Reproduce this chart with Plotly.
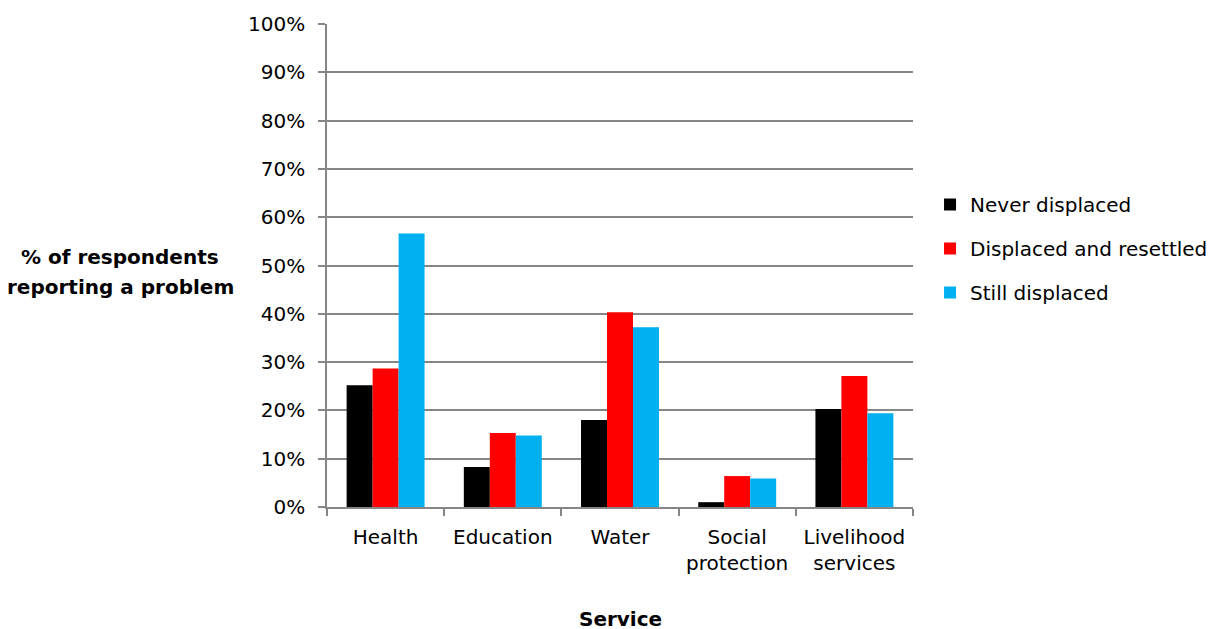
import plotly.graph_objects as go

categories = ["Health", "Education", "Water", "Social<br>protection", "Livelihood<br>services"]
never_displaced = [25.2, 8.3, 18.0, 1.0, 20.3]
displaced_resettled = [28.7, 15.3, 40.3, 6.4, 27.1]
still_displaced = [56.6, 14.8, 37.2, 5.9, 19.4]
series_names = ["Never displaced", "Displaced and resettled", "Still displaced"]
series_colors = ["#000000", "#FF0000", "#00B0F0"]
y_ticks = [0, 10, 20, 30, 40, 50, 60, 70, 80, 90, 100]
y_tick_labels = [f"{v}%" for v in y_ticks]

FONT = "DejaVu Sans"
GRID = "#868686"

fig = go.Figure()
for i, (name, vals, col) in enumerate(zip(series_names,
                                          [never_displaced, displaced_resettled, still_displaced],
                                          series_colors)):
    fig.add_trace(go.Bar(x=categories, y=vals, name=name, marker_color=col,
                         marker_line_width=0, legendgroup=f"g{i}"))

fig.update_layout(
    width=1214, height=629,
    margin=dict(l=319, r=309, t=16, b=130),
    paper_bgcolor="white", plot_bgcolor="white",
    barmode="group", bargap=0.335, bargroupgap=0,
    font=dict(family=FONT, size=20, color="#000000"),
    showlegend=True,
    legend=dict(xref="container", yref="container", x=0.7595, y=0.7186,
                xanchor="left", yanchor="top",
                traceorder="grouped", tracegroupgap=15,
                font=dict(family=FONT, size=20, color="#000000"),
                bgcolor="rgba(0,0,0,0)", borderwidth=0, itemwidth=30),
    xaxis=dict(type="category", tickson="boundaries", ticks="outside", ticklen=7,
               tickcolor=GRID, tickwidth=1.5, showgrid=False, showline=True,
               linecolor=GRID, linewidth=1.5, ticklabelstandoff=11, automargin=False,
               tickfont=dict(family=FONT, size=20)),
    yaxis=dict(range=[0, 100], tickvals=y_ticks, ticktext=y_tick_labels,
               ticks="outside", ticklen=7, tickcolor=GRID, tickwidth=1.5,
               showgrid=True, gridcolor=GRID, gridwidth=1.5, showline=True,
               linecolor=GRID, linewidth=1.5, zeroline=False, ticklabelstandoff=9,
               automargin=False, tickfont=dict(family=FONT, size=20)),
    annotations=[
        dict(text="<b>% of respondents</b>", xref="paper", yref="paper",
             x=-0.3532, y=0.5176, xanchor="center", yanchor="middle", showarrow=False,
             font=dict(family=FONT, size=20, color="#000000")),
        dict(text="<b>reporting a problem</b>", xref="paper", yref="paper",
             x=-0.3532, y=0.4555, xanchor="center", yanchor="middle", showarrow=False,
             font=dict(family=FONT, size=20, color="#000000")),
        dict(text="<b>Service</b>", xref="paper", yref="paper",
             x=0.5, y=-0.231, xanchor="center", yanchor="middle", showarrow=False,
             font=dict(family=FONT, size=20, color="#000000")),
    ],
)

fig.write_html("out.html")
